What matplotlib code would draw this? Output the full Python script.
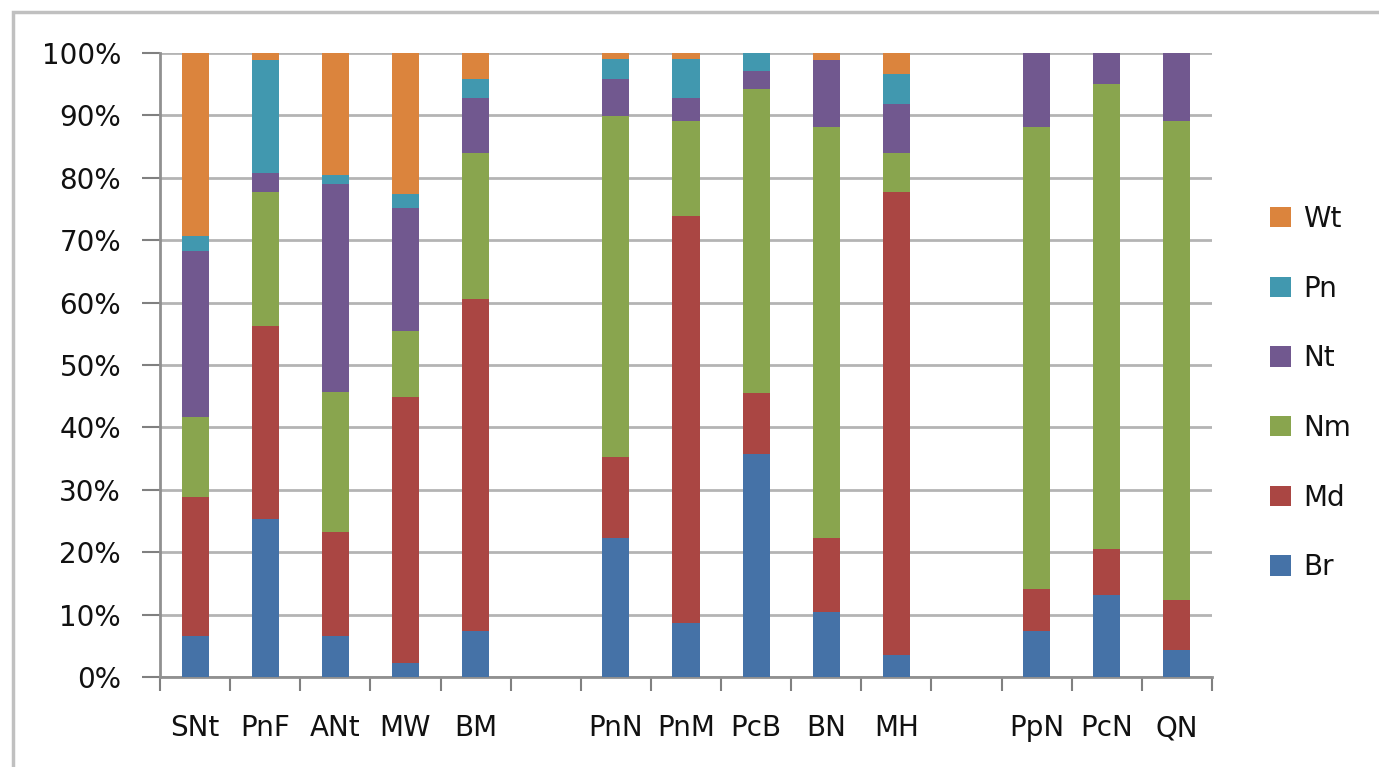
import matplotlib
matplotlib.use("Agg")
import matplotlib.pyplot as plt
from matplotlib.patches import Rectangle, Patch
import numpy as np

categories = ["SNt", "PnF", "ANt", "MW", "BM", "", "PnN", "PnM", "PcB", "BN", "MH", "", "PpN", "PcN", "QN"]
series_names = ["Br", "Md", "Nm", "Nt", "Pn", "Wt"]
Br = [6.5, 25.4, 6.5, 2.2, 7.4, 0, 22.3, 8.6, 35.7, 10.4, 3.5, 0, 7.4, 13.2, 4.3]
Md = [22.4, 30.8, 16.7, 42.6, 53.1, 0, 13.0, 65.3, 9.8, 11.9, 74.2, 0, 6.7, 7.3, 8.1]
Nm = [12.8, 21.6, 22.4, 10.7, 23.4, 0, 54.6, 15.2, 48.7, 65.9, 6.2, 0, 74.1, 74.6, 76.7]
Nt = [26.6, 2.9, 33.4, 19.6, 8.9, 0, 5.9, 3.7, 2.9, 10.7, 8.0, 0, 11.8, 4.9, 10.9]
Pn = [2.3, 18.2, 1.4, 2.3, 3.0, 0, 3.2, 6.2, 2.9, 0, 4.8, 0, 0, 0, 0]
Wt = [29.4, 1.1, 19.6, 22.6, 4.2, 0, 1.0, 1.0, 0, 1.1, 3.3, 0, 0, 0, 0]
colors = ["#4572A7", "#AA4643", "#89A54E", "#71588F", "#4198AF", "#DB843D"]
yticks = [0, 10, 20, 30, 40, 50, 60, 70, 80, 90, 100]

W, H = 1379, 767
fig = plt.figure(figsize=(W / 100, H / 100), dpi=100)
fig.patch.set_facecolor("white")

# outer chart border (cut at right and bottom)
fig.add_artist(Rectangle((13 / W, -0.05), 1.2, (H - 12) / H + 0.05, transform=fig.transFigure,
                         fill=False, edgecolor="#c0c0c0", lw=2.5))

ax = fig.add_axes([160 / W, (H - 677) / H, (1212 - 160) / W, (677 - 53) / H])
x = np.arange(len(categories))
data = [Br, Md, Nm, Nt, Pn, Wt]
bottom = np.zeros(len(categories))
for name, vals, c in zip(series_names, data, colors):
    v = np.array(vals, dtype=float)
    ax.bar(x, v, 0.385, bottom=bottom, color=c, label=name, zorder=3, linewidth=0)
    bottom += v

ax.set_xlim(-0.5, len(categories) - 0.5)
ax.set_ylim(0, 100)
ax.set_yticks(yticks)
ax.set_yticklabels([f"{t}%" for t in yticks])
ax.yaxis.grid(True, color="#b4b4b4", lw=2, zorder=0)
ax.set_axisbelow(True)

ax.set_xticks([i for i, c in enumerate(categories) if c])
ax.set_xticklabels([c for c in categories if c])
ax.set_xticks(np.arange(-0.5, len(categories)), minor=True)
ax.tick_params(axis="x", which="major", length=0, pad=27, labelsize=20, labelcolor="#111111")
ax.tick_params(axis="x", which="minor", length=10, width=1.5, color="#808080", direction="out")
ax.tick_params(axis="y", length=13, width=1.5, color="#808080", pad=15, labelsize=20, labelcolor="#111111")

for s in ["top", "right"]:
    ax.spines[s].set_visible(False)
ax.spines["left"].set_color("#909090")
ax.spines["left"].set_linewidth(2)
ax.spines["bottom"].set_color("#909090")
ax.spines["bottom"].set_linewidth(2)

handles = [Patch(facecolor=c, edgecolor="none") for c in colors][::-1]
labels = series_names[::-1]
fig.legend(handles, labels, loc="center left", bbox_to_anchor=(1245 / W, (H - 393) / H),
           frameon=False, fontsize=20, handlelength=0.75, handleheight=0.75,
           labelspacing=1.5, handletextpad=0.45, labelcolor="#111111")

fig.savefig("out.png", dpi=100)
